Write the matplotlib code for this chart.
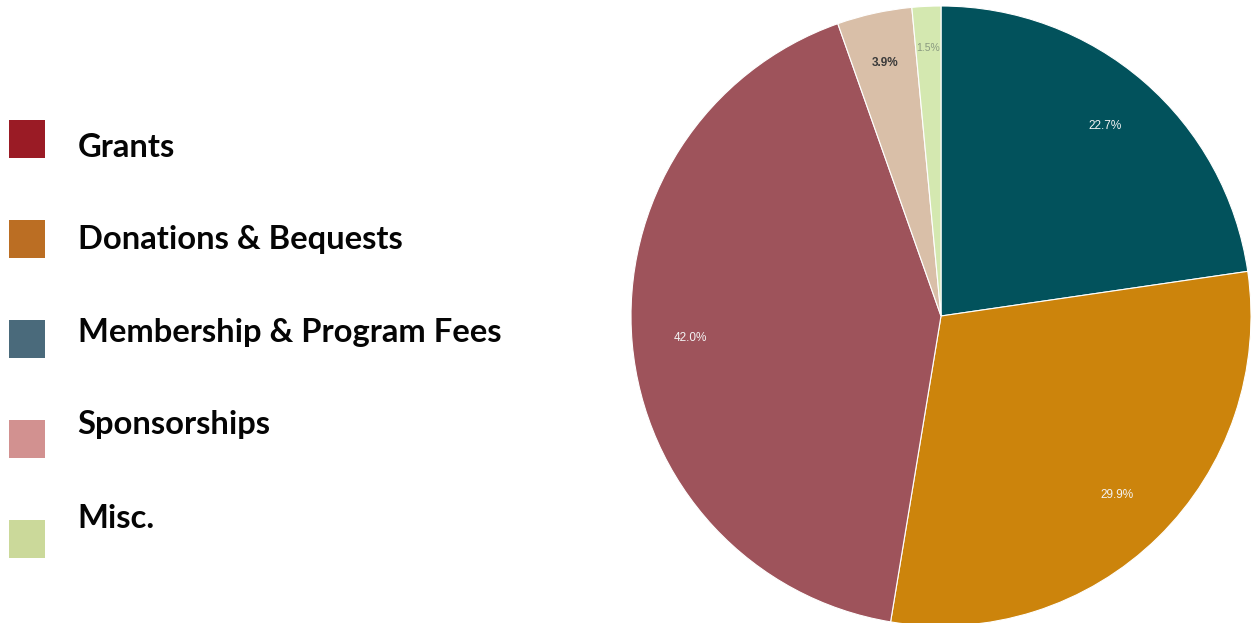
import matplotlib
matplotlib.use("Agg")
import matplotlib.pyplot as plt
from matplotlib.patches import Rectangle

# Legend data
legend_labels = ["Grants", "Donations & Bequests", "Membership & Program Fees", "Sponsorships", "Misc."]
legend_colors = ["#9a1b25", "#bb6e23", "#4a6a7b", "#d29190", "#cbd99a"]

# Pie data (clockwise from 12 o'clock)
pie_values = [22.7, 29.9, 42.0, 3.9, 1.5]
pie_colors = ["#02525c", "#cc840c", "#9e535b", "#d9bfa8", "#d4e8b0"]
pct_text_colors = ["#f4f4f4", "#f4f4f4", "#f4f4f4", "#3a3a3a", "#8a9a80"]

W, H = 1254, 623
fig = plt.figure(figsize=(W / 100, H / 100), dpi=100)
fig.patch.set_facecolor("white")

# Pie axes: center (941, 316) px, radius 310 px
cx, cy, r = 941, 316, 310
ax = fig.add_axes([(cx - r) / W, (H - cy - r) / H, 2 * r / W, 2 * r / H])
wedges, texts, autotexts = ax.pie(
    pie_values, colors=pie_colors, startangle=90, counterclock=False,
    radius=1.0, autopct="%1.1f%%", pctdistance=0.81,
    wedgeprops=dict(edgecolor="white", linewidth=0.8),
    textprops=dict(fontsize=8.5, family="Liberation Sans"))
for t, c in zip(autotexts, pct_text_colors):
    t.set_color(c)
autotexts[3].set_fontweight("bold")
# push the labels of the two thin slices a bit further out
for t, k in ((autotexts[3], 0.835 / 0.81), (autotexts[4], 0.865 / 0.81)):
    x, y = t.get_position()
    t.set_position((x * k, y * k))
autotexts[4].set_fontsize(7.5)
ax.set_xlim(-1, 1)
ax.set_ylim(-1, 1)
ax.set_aspect("equal")
ax.axis("off")

# Legend axes in pixel coordinates
lax = fig.add_axes([0, 0, 1, 1])
lax.set_xlim(0, W)
lax.set_ylim(H, 0)
lax.axis("off")
sq_tops = [120, 220, 320, 420, 520]
baselines = [157, 249, 342, 434, 528]
for lab, col, top, bl in zip(legend_labels, legend_colors, sq_tops, baselines):
    lax.add_patch(Rectangle((9, top), 36, 38, facecolor=col, edgecolor="none"))
    lax.text(77.5, bl, lab, fontsize=23.6, fontweight="bold", family="Lato",
             color="#050505", va="baseline", ha="left")

fig.savefig("out.png", dpi=100, facecolor="white")
